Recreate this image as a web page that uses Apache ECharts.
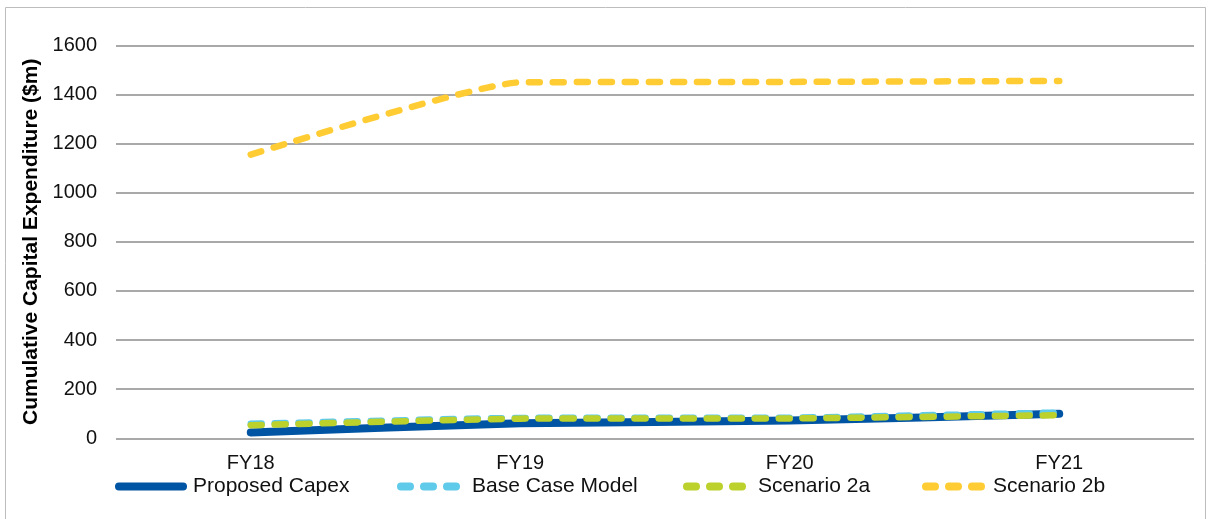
<!DOCTYPE html>
<html>
<head>
<meta charset="utf-8">
<script src="https://cdn.jsdelivr.net/npm/echarts@6/dist/echarts.min.js"></script>
<style>html,body{margin:0;padding:0;background:#fff}#c{width:1208px;height:519px}</style>
</head>
<body>
<div id="c"></div>
<script>
const categories = ['FY18', 'FY19', 'FY20', 'FY21'];
const proposedCapex = [24, 61, 72, 100];
const baseCaseModel = [59, 83, 84, 105];
const scenario2a = [53, 80, 81, 94];
const scenario2b = [1155, 1449, 1451, 1455];
const yTicks = { min: 0, max: 1600, interval: 200 };

const chart = echarts.init(document.getElementById('c'), null, { renderer: 'canvas' });
const font = 'Liberation Sans, Arial, sans-serif';
const dash = { type: [11, 13], cap: 'round', join: 'round' };

function dashPath() {
  const segs = [[0, 17], [23, 40], [46, 63]];
  let p = 'path://';
  segs.forEach(([a, b]) => {
    p += 'M' + (a + 4) + ',0 H' + (b - 4) + ' A4,4 0 0 1 ' + (b - 4) + ',8 H' + (a + 4) + ' A4,4 0 0 1 ' + (a + 4) + ',0 Z ';
  });
  return p;
}
const solidPath = 'path://M4,0 H68 A4,4 0 0 1 68,8 H4 A4,4 0 0 1 4,0 Z';

function mkLegend(name, left, w, icon, padLeft) {
  return {
    data: [{ name: name, icon: icon }], left: left, top: 476, itemWidth: w, itemHeight: 8, itemGap: 0,
    textStyle: { fontFamily: font, fontSize: 21, color: '#111', padding: [0, 0, 0, padLeft] },
    padding: 0
  };
}

chart.setOption({
  animation: false,
  graphic: [{ type: 'rect', shape: { x: 5.5, y: 7.5, width: 1200, height: 520 }, style: { fill: 'none', stroke: '#bdbdbd', lineWidth: 1 }, silent: true }],
  grid: { left: 116, right: 14, top: 45.3, bottom: 80.7, containLabel: false },
  legend: [
    mkLegend('Proposed Capex', 115, 72, solidPath, 1),
    mkLegend('Base Case Model', 397, 63, dashPath(), 7),
    mkLegend('Scenario 2a', 683, 63, dashPath(), 7),
    mkLegend('Scenario 2b', 922, 63, dashPath(), 3)
  ],
  xAxis: {
    type: 'category', data: categories, boundaryGap: true,
    axisLine: { show: false }, axisTick: { show: false },
    axisLabel: { fontFamily: font, fontSize: 20, color: '#111', margin: 15 }
  },
  yAxis: {
    type: 'value', min: yTicks.min, max: yTicks.max, interval: yTicks.interval,
    name: 'Cumulative Capital Expenditure ($m)', nameLocation: 'middle', nameGap: 73, nameRotate: 90,
    nameTextStyle: { fontFamily: font, fontSize: 21, fontWeight: 'bold', color: '#000' },
    axisLine: { show: false }, axisTick: { show: false },
    axisLabel: { fontFamily: font, fontSize: 20, color: '#111', margin: 19, formatter: v => String(v) },
    splitLine: { lineStyle: { color: '#8c8c8c', width: 1.5 } }
  },
  series: [
    { name: 'Proposed Capex', type: 'line', data: proposedCapex, smooth: 0.15, symbol: 'none', z: 2,
      lineStyle: { color: '#0054A4', width: 8, cap: 'round', join: 'round' }, itemStyle: { color: '#0054A4' } },
    { name: 'Base Case Model', type: 'line', data: baseCaseModel, smooth: 0.15, symbol: 'none', z: 3,
      lineStyle: Object.assign({ color: '#5FCAEA', width: 6.5 }, dash), itemStyle: { color: '#5FCAEA' } },
    { name: 'Scenario 2a', type: 'line', data: scenario2a, smooth: 0.15, symbol: 'none', z: 4,
      lineStyle: Object.assign({ color: '#BCD12C', width: 6.5 }, dash), itemStyle: { color: '#BCD12C' } },
    { name: 'Scenario 2b', type: 'line', data: scenario2b, smooth: 0.15, symbol: 'none', z: 5,
      lineStyle: Object.assign({ color: '#FFCC33', width: 6.5 }, dash), itemStyle: { color: '#FFCC33' } }
  ]
});
</script>
</body>
</html>
